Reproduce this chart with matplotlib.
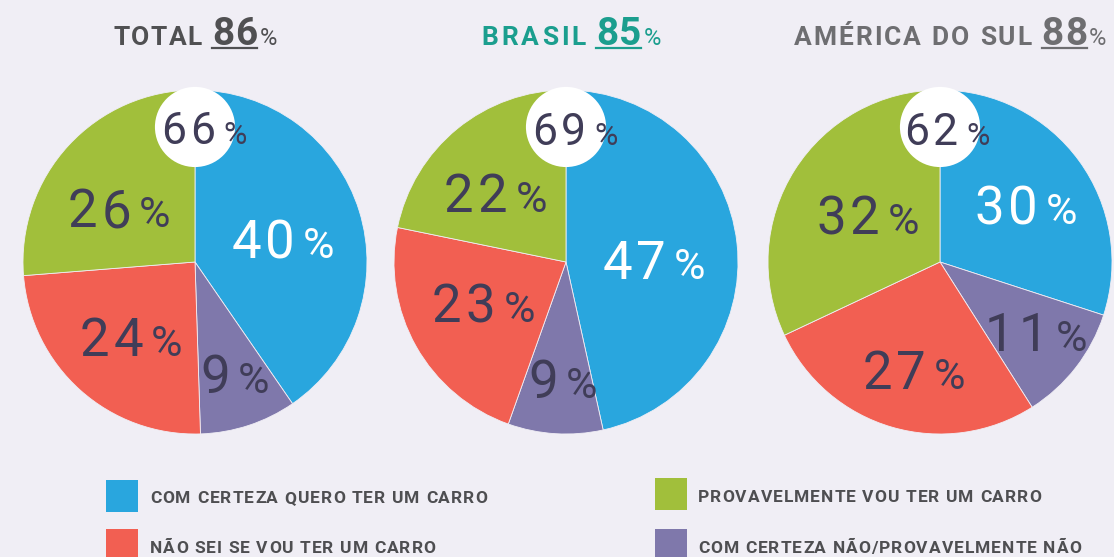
import matplotlib.pyplot as plt
from matplotlib.patches import Circle, Rectangle
from matplotlib.lines import Line2D

# --------------------------------------------------------------
# Data
# --------------------------------------------------------------
regions = ["TOTAL", "BRASIL", "AMÉRICA DO SUL"]
region_totals = [86, 85, 88]
top_share = [66, 69, 62]

categories = [
    "COM CERTEZA QUERO TER UM CARRO",
    "COM CERTEZA NÃO/PROVAVELMENTE NÃO",
    "NÃO SEI SE VOU TER UM CARRO",
    "PROVAVELMENTE VOU TER UM CARRO",
]
total_vals = [40, 9, 24, 26]
brasil_vals = [47, 9, 23, 22]
america_vals = [30, 11, 27, 32]
all_vals = [total_vals, brasil_vals, america_vals]

# --------------------------------------------------------------
# Style
# --------------------------------------------------------------
BG = "#f0eef5"
colors = ["#29a6de", "#7f78ab", "#f25f52", "#a1bf3b"]
label_color = "#403d58"
title_colors = ["#505052", "#1b9e8e", "#6e6e71"]
legend_color = "#4e4e51"
FONT = ["Roboto", "DejaVu Sans"]

W, H = 1114, 557
R = 172
centers = [(195, 262), (566, 262), (940, 262)]

# label anchors in unit-pie coords, one per slice (+ top bubble)
label_pos = [
    [(0.51, 0.13), (0.23, -0.65), (-0.37, -0.44), (-0.44, 0.31)],
    [(0.51, 0.01), (-0.02, -0.68), (-0.48, -0.24), (-0.41, 0.40)],
    [(0.50, 0.33), (0.56, -0.41), (-0.15, -0.63), (-0.42, 0.27)],
]
top_pos = [(0.05, 0.78), (0.05, 0.77), (0.04, 0.77)]

fig = plt.figure(figsize=(W / 100, H / 100), dpi=100, facecolor=BG)
renderer = fig.canvas.get_renderer()

_cache = {}


def char_w(ch, size, weight):
    if ch == " ":
        return size * 100 / 72 * 0.26
    key = (ch, size, weight)
    if key not in _cache:
        t = fig.text(0, 0, ch, fontsize=size, fontweight=weight, family=FONT)
        _cache[key] = t.get_window_extent(renderer).width
        t.remove()
    return _cache[key]


def run(x, y, pieces, ha="center"):
    # pieces: (text, size, weight, color, tracking, gap_after); x,y in px from top-left, y = baseline
    layout = []
    pos = 0
    spans = []
    for s, size, weight, color, track, gap in pieces:
        start = pos
        for i, ch in enumerate(s):
            layout.append((ch, size, weight, color, pos))
            pos += char_w(ch, size, weight)
            if i < len(s) - 1:
                pos += track
        spans.append((start, pos))
        pos += gap
    pos -= pieces[-1][5]
    x0 = x - pos / 2 if ha == "center" else x
    for ch, size, weight, color, off in layout:
        if ch == " ":
            continue
        fig.text((x0 + off) / W, 1 - y / H, ch, fontsize=size, fontweight=weight,
                 family=FONT, color=color, ha="left", va="baseline")
    return [(x0 + a, x0 + b) for a, b in spans]


def pct_label(x, y, value, size, psize, color):
    # y is the vertical centre of the digits
    base = y + 0.5 * 0.711 * size * 100 / 72
    run(x, base, [(str(value), size, "normal", color, 4, 8),
                  ("%", psize, "normal", color, 0, 0)])


# --------------------------------------------------------------
# Pies
# --------------------------------------------------------------
for k, vals in enumerate(all_vals):
    cx, cy = centers[k]
    ax = fig.add_axes([(cx - R) / W, (H - cy - R) / H, 2 * R / W, 2 * R / H])
    ax.pie(vals, colors=colors, startangle=90, counterclock=False, radius=1,
           wedgeprops=dict(edgecolor=BG, linewidth=0.6))
    ax.set_xlim(-1, 1)
    ax.set_ylim(-1, 1)
    ax.add_patch(Circle((0, 0.785), 0.233, facecolor="white", edgecolor="none",
                        clip_on=False, zorder=3))

    for j, v in enumerate(vals):
        ux, uy = label_pos[k][j]
        col = "white" if j == 0 else label_color
        pct_label(cx + ux * R, cy - uy * R, v, 38, 31, col)
    ux, uy = top_pos[k]
    pct_label(cx + ux * R, cy - uy * R, top_share[k], 32, 23, label_color)

# --------------------------------------------------------------
# Titles
# --------------------------------------------------------------
title_x = [195, 571, 950]
title_track = [1.5, 3, 2]
for k, name in enumerate(regions):
    c = title_colors[k]
    spans = run(title_x[k], 45, [(name, 19, "bold", c, title_track[k], 10),
                                 (str(region_totals[k]), 28, "bold", c, 1, 2),
                                 ("%", 17, "normal", c, 0, 0)])
    a, b = spans[1]
    fig.add_artist(Line2D([a / W, b / W], [1 - 48 / H, 1 - 48 / H], color=c, lw=1.6))

# --------------------------------------------------------------
# Legend
# --------------------------------------------------------------
legend_items = [
    (0, 106, 480, 150, 503),
    (3, 655, 478, 698, 502),
    (2, 106, 529, 150, 553),
    (1, 655, 529, 698, 553),
]
for idx, sx, sy, tx, ty in legend_items:
    fig.add_artist(Rectangle((sx / W, 1 - (sy + 32) / H), 32 / W, 32 / H,
                             transform=fig.transFigure, facecolor=colors[idx],
                             edgecolor="none"))
    run(tx, ty, [(categories[idx], 12.5, "bold", legend_color, 1.0, 0)], ha="left")

fig.savefig("out.png", dpi=100, facecolor=BG)
